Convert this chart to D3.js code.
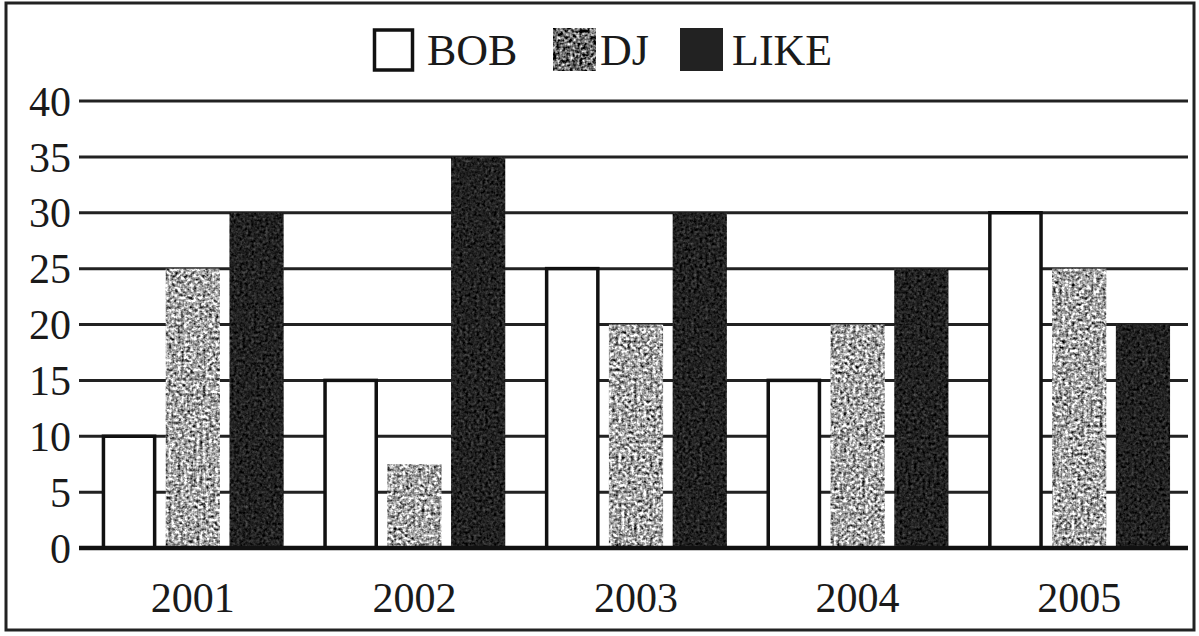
<!DOCTYPE html>
<html><head><meta charset="utf-8">
<script src="https://cdn.jsdelivr.net/npm/d3@7"></script>
<style>html,body{margin:0;padding:0;background:#fff;}svg{display:block;}</style>
</head><body>
<script>
const years = ["2001","2002","2003","2004","2005"];
const seriesNames = ["BOB","DJ","LIKE"];
const bob = [10, 15, 25, 15, 30];
const dj = [25, 7.5, 20, 20, 25];
const like = [30, 35, 30, 25, 20];
const yTicks = [0,5,10,15,20,25,30,35,40];

const W = 1199, H = 636;
const svg = d3.select("body").append("svg").attr("width", W).attr("height", H);
const defs = svg.append("defs");

function noiseFilter(id, freq, seed, slope, offset) {
  const f = defs.append("filter").attr("id",id).attr("x",0).attr("y",0).attr("width","100%").attr("height","100%")
    .attr("color-interpolation-filters","sRGB");
  f.append("feTurbulence").attr("type","fractalNoise").attr("baseFrequency",freq).attr("numOctaves",2).attr("seed",seed).attr("result","n");
  const row = `${slope} ${slope} 0 0 ${offset}`;
  f.append("feColorMatrix").attr("in","n").attr("type","matrix")
    .attr("values",`${row}  ${row}  ${row}  0 0 0 0 1`).attr("result","g");
  f.append("feComposite").attr("in","g").attr("in2","SourceGraphic").attr("operator","in");
}
noiseFilter("grayNoise", "0.32", 3, 1.25, -0.6);
noiseFilter("darkNoise", "0.35", 7, 0.35, -0.22);
noiseFilter("darkGray", "0.3", 5, 1.4, -1.0);

// frame
svg.append("rect").attr("x",6).attr("y",3).attr("width",1188).attr("height",627)
  .attr("fill","none").attr("stroke","#222").attr("stroke-width",3);

const x0 = d3.scaleBand().domain(years).range([82,1190]).paddingInner(0.18).paddingOuter(0.09);
const x1 = d3.scaleBand().domain(seriesNames).range([0, x0.bandwidth()]).paddingInner(0.15);
const y = d3.scaleLinear().domain([0,40]).range([548,101]);

const font = "'Liberation Serif','Times New Roman',serif";

// gridlines
svg.append("g").selectAll("line").data(yTicks.filter(d=>d>0)).join("line")
  .attr("x1",79).attr("x2",1188).attr("y1",d=>y(d)).attr("y2",d=>y(d))
  .attr("stroke","#222").attr("stroke-width",3);

// y tick labels
svg.append("g").selectAll("text").data(yTicks).join("text")
  .attr("x",71).attr("y",d=>y(d)).attr("dy","0.35em").attr("text-anchor","end")
  .attr("font-family",font).attr("font-size",42).attr("fill","#1a1a1a").text(d=>d);

const data = years.map((yr,i)=>({year:yr, vals:[bob[i],dj[i],like[i]]}));
const g = svg.append("g");
data.forEach(d=>{
  const gx = x0(d.year);
  seriesNames.forEach((s,j)=>{
    const v = d.vals[j];
    const bx = gx + x1(s), bw = x1.bandwidth();
    if (s==="BOB") {
      g.append("rect").attr("x",bx+1.5).attr("y",y(v)).attr("width",bw-3).attr("height",y(0)-y(v))
        .attr("fill","#fff").attr("stroke","#111").attr("stroke-width",3.5);
    } else if (s==="DJ") {
      g.append("rect").attr("x",bx).attr("y",y(v)).attr("width",bw).attr("height",y(0)-y(v))
        .attr("fill","#999").attr("filter","url(#grayNoise)");
    } else {
      g.append("rect").attr("x",bx).attr("y",y(v)).attr("width",bw).attr("height",y(0)-y(v))
        .attr("fill","#222").attr("filter","url(#darkNoise)");
    }
  });
});

// baseline
svg.append("line").attr("x1",79).attr("x2",1188).attr("y1",y(0)).attr("y2",y(0))
  .attr("stroke","#111").attr("stroke-width",4.5);

// x labels
svg.append("g").selectAll("text").data(years).join("text")
  .attr("x",d=>x0(d)+x0.bandwidth()/2).attr("y",612).attr("text-anchor","middle")
  .attr("font-family",font).attr("font-size",42).attr("fill","#1a1a1a").text(d=>d);

// legend
const legendX = [373, 553, 680];
const lg = svg.append("g");
seriesNames.forEach((s,j)=>{
  const lx = legendX[j];
  if (s==="BOB") {
    lg.append("rect").attr("x",lx+1.5).attr("y",30).attr("width",38).attr("height",40)
      .attr("fill","#fff").attr("stroke","#111").attr("stroke-width",3.5);
  } else if (s==="DJ") {
    lg.append("rect").attr("x",lx).attr("y",28).attr("width",43).attr("height",43)
      .attr("fill","#666").attr("filter","url(#darkGray)");
  } else {
    lg.append("rect").attr("x",lx).attr("y",28).attr("width",43).attr("height",43)
      .attr("fill","#222");
  }
  lg.append("text").attr("x", lx + (s==="BOB"?54:(s==="DJ"?47:52))).attr("y",65)
    .attr("font-family",font).attr("font-size",44).attr("fill","#1a1a1a").text(s);
});
</script>
</body></html>
